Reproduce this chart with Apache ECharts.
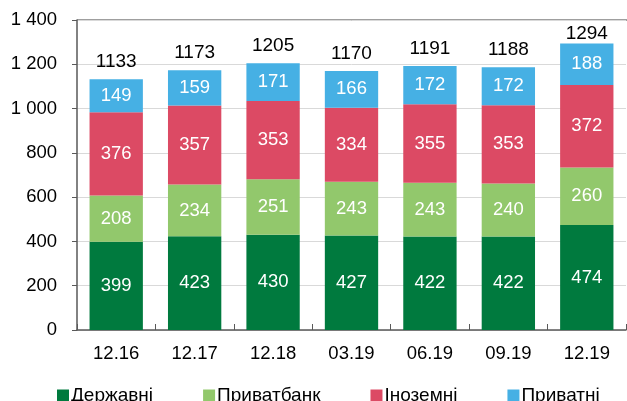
<!DOCTYPE html>
<html>
<head>
<meta charset="utf-8">
<script src="https://cdn.jsdelivr.net/npm/echarts@6/dist/echarts.min.js"></script>
<style>
  html, body { margin: 0; padding: 0; background: #fff; }
  #chart { width: 627px; height: 401px; }
</style>
</head>
<body>
<div id="chart"></div>
<script>
// дані
const categories = ['12.16', '12.17', '12.18', '03.19', '06.19', '09.19', '12.19'];
const derzhavni = [399, 423, 430, 427, 422, 422, 474];
const pryvatbank = [208, 234, 251, 243, 243, 240, 260];
const inozemni = [376, 357, 353, 334, 355, 353, 372];
const pryvatni = [149, 159, 171, 166, 172, 172, 188];
const totals = [1133, 1173, 1205, 1170, 1191, 1188, 1294];
const yTicks = [0, 200, 400, 600, 800, 1000, 1200, 1400];

const font = 'Liberation Sans, Arial, sans-serif';
const chart = echarts.init(document.getElementById('chart'));

function fmt(v) {
  return String(v).replace(/\B(?=(\d{3})+(?!\d))/g, ' ');
}

function seg(name, data, color) {
  return {
    name,
    type: 'bar',
    stack: 'all',
    data,
    barWidth: '68%',
    itemStyle: { color },
    label: {
      show: true,
      color: '#fff',
      fontSize: 18.5,
      fontFamily: font,
    },
  };
}

const option = {
  animation: false,
  grid: { left: 77, right: 1, top: 20, bottom: 71, containLabel: false },
  legend: {
    bottom: -9,
    left: 52,
    itemGap: 50,
    itemWidth: 12,
    itemHeight: 12,
    icon: 'rect',
    data: ['Державні', 'Приватбанк', 'Іноземні', 'Приватні'],
    textStyle: { fontSize: 19, color: '#000', fontFamily: font, padding: [0, 0, 0, -3] },
  },
  xAxis: {
    type: 'category',
    data: categories,
    axisLine: { lineStyle: { color: '#595959', width: 1.5 } },
    axisTick: { show: true, inside: true, length: 6, lineStyle: { color: '#595959' } },
    axisLabel: { fontSize: 18.5, color: '#000', fontFamily: font, margin: 14 },
  },
  yAxis: [
    {
      type: 'value',
      min: yTicks[0],
      max: yTicks[yTicks.length - 1],
      interval: 200,
      axisLine: { show: true, lineStyle: { color: '#595959', width: 1.5 } },
      axisTick: { show: true, length: 5, lineStyle: { color: '#595959' } },
      axisLabel: { fontSize: 18.5, color: '#000', fontFamily: font, margin: 20, formatter: fmt },
      splitLine: { lineStyle: { color: '#d9d9d9', width: 1 } },
    },
  ],
  series: [
    seg('Державні', derzhavni, '#007a3e'),
    seg('Приватбанк', pryvatbank, '#92c86c'),
    seg('Іноземні', inozemni, '#dc4a64'),
    seg('Приватні', pryvatni, '#46b0e4'),
    {
      name: 'Всього',
      type: 'bar',
      stack: 'all',
      data: totals.map((t, i) => ({ value: 0, label: i === 6 ? { distance: 0 } : undefined })),
      itemStyle: { color: 'transparent' },
      label: {
        show: true,
        position: 'top',
        distance: 8,
        color: '#000',
        fontSize: 19,
        fontFamily: font,
        formatter: p => totals[p.dataIndex],
      },
    },
  ],
  graphic: [
    { type: 'line', shape: { x1: 77, y1: 20, x2: 627, y2: 20 }, style: { stroke: '#7f7f7f', lineWidth: 1.5 } },
  ],
};

chart.setOption(option);
</script>
</body>
</html>
